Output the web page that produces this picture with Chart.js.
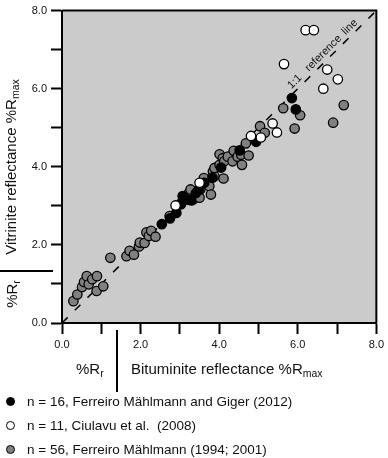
<!DOCTYPE html>
<html>
<head>
<meta charset="utf-8">
<script src="https://cdn.jsdelivr.net/npm/chart.js@4.4.0/dist/chart.umd.min.js"></script>
<style>
  body { margin: 0; background: #fff; font-family: "Liberation Sans", Arial, sans-serif; color: #111; }
  #wrap { position: relative; width: 388px; height: 458px; }
  canvas { position: absolute; left: 0; top: 0; }
  .t { position: absolute; white-space: nowrap; font-size: 15px; line-height: 1; }
  .t sub { font-size: 10.5px; vertical-align: -3px; }
  .rot { transform: translate(-50%, -50%) rotate(-90deg); }
  .sep { position: absolute; background: #000; }
  .leg { position: absolute; left: 6px; font-size: 13.5px; white-space: nowrap; display: flex; align-items: center; }
  .dot { display: inline-block; width: 7px; height: 7px; border: 1.6px solid #000; border-radius: 50%; margin-right: 12px; }
</style>
</head>
<body>
<div id="wrap">
  <canvas id="c" width="388" height="458"></canvas>
  <div class="t rot" style="left:12px; top:167px;">Vitrinite reflectance %R<sub>max</sub></div>
  <div class="sep" style="left:0; top:270px; width:53px; height:1.5px;"></div>
  <div class="t rot" style="left:13px; top:294px;">%R<sub>r</sub></div>
  <div class="t" style="left:76px; top:361px;">%R<sub>r</sub></div>
  <div class="sep" style="left:116px; top:330px; width:1.5px; height:62px;"></div>
  <div class="t" style="left:131px; top:361px;">Bituminite reflectance %R<sub>max</sub></div>
  <div class="leg" style="top:394px;"><span class="dot" style="background:#000"></span>n = 16, Ferreiro Mählmann and Giger (2012)</div>
  <div class="leg" style="top:418px;"><span class="dot" style="background:#fff"></span>n = 11, Ciulavu et al.&nbsp; (2008)</div>
  <div class="leg" style="top:442px;"><span class="dot" style="background:#808080"></span>n = 56, Ferreiro Mählmann (1994; 2001)</div>
</div>
<script>
// Bituminite (x) vs vitrinite (y) reflectance
const blackX = [2.54, 2.75, 2.91, 3.02, 3.07, 3.20, 3.29, 3.41, 3.48, 3.62, 3.83, 4.05, 4.52, 4.94, 5.85, 5.95];
const blackY = [2.53, 2.68, 2.82, 3.06, 3.25, 3.16, 3.14, 3.33, 3.42, 3.59, 3.72, 3.98, 4.42, 4.64, 5.76, 5.47];

const whiteX = [2.89, 3.50, 4.81, 5.06, 5.36, 5.47, 5.65, 6.20, 6.41, 6.65, 6.75, 7.02];
const whiteY = [3.01, 3.59, 4.79, 4.75, 5.11, 4.88, 6.63, 7.50, 7.50, 6.00, 6.49, 6.24];

const grayX = [0.29, 0.39, 0.51, 0.56, 0.63, 0.68, 0.77, 0.89, 0.88, 1.05,
               1.23, 1.64, 1.72, 1.83, 1.96, 1.98, 2.10, 2.15, 2.21, 2.27,
               2.38, 2.74, 3.03, 3.16, 3.23, 3.27, 3.33, 3.50, 3.52, 3.61,
               3.75, 3.79, 3.84, 3.88, 3.88, 4.01, 4.01, 4.09, 4.11, 4.13,
               4.22, 4.34, 4.37, 4.47, 4.56, 4.58, 4.68, 4.75, 5.04, 5.16,
               5.63, 5.92, 6.06, 6.90, 7.17];
const grayY = [0.56, 0.73, 0.92, 1.05, 1.20, 0.99, 1.12, 1.20, 0.82, 0.94,
               1.67, 1.71, 1.85, 1.75, 1.96, 2.06, 2.05, 2.32, 2.23, 2.36,
               2.21, 2.74, 3.04, 3.25, 3.33, 3.42, 3.16, 3.21, 3.42, 3.71,
               3.50, 3.29, 3.88, 3.76, 3.97, 4.05, 4.32, 4.22, 3.70, 4.14,
               4.26, 4.14, 4.41, 4.26, 4.31, 4.05, 4.60, 4.29, 5.04, 4.87,
               5.50, 4.98, 5.32, 5.13, 5.58];

const refLine = [0, 8];
const refWords = ['1:1', 'reference', 'line'];
const refWordAt = [6.05, 6.78, 7.45];

const axisMin = 0, axisMax = 8;

function pts(xs, ys) {
    return xs.map((x, i) => ({ x: x, y: ys[i] }));
}

// gray panel plus thin frame on top and right
const panel = {
    id: 'panel',
    beforeDraw(chart) {
        const a = chart.chartArea, ctx = chart.ctx;
        ctx.save();
        ctx.fillStyle = '#cbcbcb';
        ctx.fillRect(a.left, a.top, a.right - a.left, a.bottom - a.top);
        ctx.restore();
    },
    afterDraw(chart) {
        const a = chart.chartArea, ctx = chart.ctx;
        ctx.save();
        ctx.strokeStyle = '#000';
        ctx.lineWidth = 2;
        ctx.beginPath();
        ctx.moveTo(a.left, a.top);
        ctx.lineTo(a.right, a.top);
        ctx.lineTo(a.right, a.bottom);
        ctx.stroke();
        ctx.restore();
    }
};

// "1:1 reference line" written along the dashed line
const refLabel = {
    id: 'refLabel',
    afterDatasetsDraw(chart) {
        const xs = chart.scales.x, ys = chart.scales.y, ctx = chart.ctx;
        const ang = Math.atan2(ys.getPixelForValue(8) - ys.getPixelForValue(0),
                               xs.getPixelForValue(8) - xs.getPixelForValue(0));
        ctx.save();
        ctx.font = '11px "Liberation Sans", Arial, sans-serif';
        ctx.fillStyle = '#111';
        ctx.textAlign = 'center';
        ctx.textBaseline = 'alphabetic';
        refWords.forEach((w, i) => {
            const v = refWordAt[i];
            ctx.save();
            ctx.translate(xs.getPixelForValue(v), ys.getPixelForValue(v));
            ctx.rotate(ang);
            ctx.fillText(w, 0, -4);
            ctx.restore();
        });
        ctx.restore();
    }
};

const tickFont = { family: '"Liberation Sans", Arial, sans-serif', size: 11 };

function axis(extra) {
    return Object.assign({
        type: 'linear',
        min: axisMin,
        max: axisMax,
        ticks: {
            stepSize: 1,
            autoSkip: false,
            maxRotation: 0,
            color: '#111',
            font: tickFont,
            padding: 4,
            callback: v => (v % 2 === 0 ? v.toFixed(1) : ''),
        },
        grid: {
            drawOnChartArea: false,
            drawTicks: true,
            tickLength: 11,
            tickWidth: 2,
            tickColor: '#000',
        },
        border: { display: true, color: '#000', width: 2 },
    }, extra);
}

const dotStyle = { pointRadius: 4.7, pointBorderWidth: 1.3, pointBorderColor: '#000', showLine: false };

new Chart(document.getElementById('c').getContext('2d'), {
    type: 'scatter',
    data: {
        datasets: [
            Object.assign({ label: 'n = 11, Ciulavu et al. (2008)', data: pts(whiteX, whiteY),
                pointBackgroundColor: '#ffffff', order: 1 }, dotStyle),
            Object.assign({ label: 'n = 16, Ferreiro Mählmann and Giger (2012)', data: pts(blackX, blackY),
                pointBackgroundColor: '#000000', order: 2 }, dotStyle),
            Object.assign({ label: 'n = 56, Ferreiro Mählmann (1994; 2001)', data: pts(grayX, grayY),
                pointBackgroundColor: '#808080', order: 3 }, dotStyle),
            {
                label: '1:1 reference line',
                data: pts(refLine, refLine),
                showLine: true,
                borderColor: '#000',
                borderWidth: 1.5,
                borderDash: [8, 10],
                pointRadius: 0,
                order: 4,
            },
        ],
    },
    options: {
        responsive: false,
        animation: false,
        layout: { padding: { left: 0, top: 8, right: 10, bottom: 105 } },
        plugins: { legend: { display: false }, tooltip: { enabled: false } },
        scales: {
            x: axis({ afterFit: s => { s.height = 30; } }),
            y: axis({ afterFit: s => { s.width = 62; } }),
        },
    },
    plugins: [panel, refLabel],
});
</script>
</body>
</html>
